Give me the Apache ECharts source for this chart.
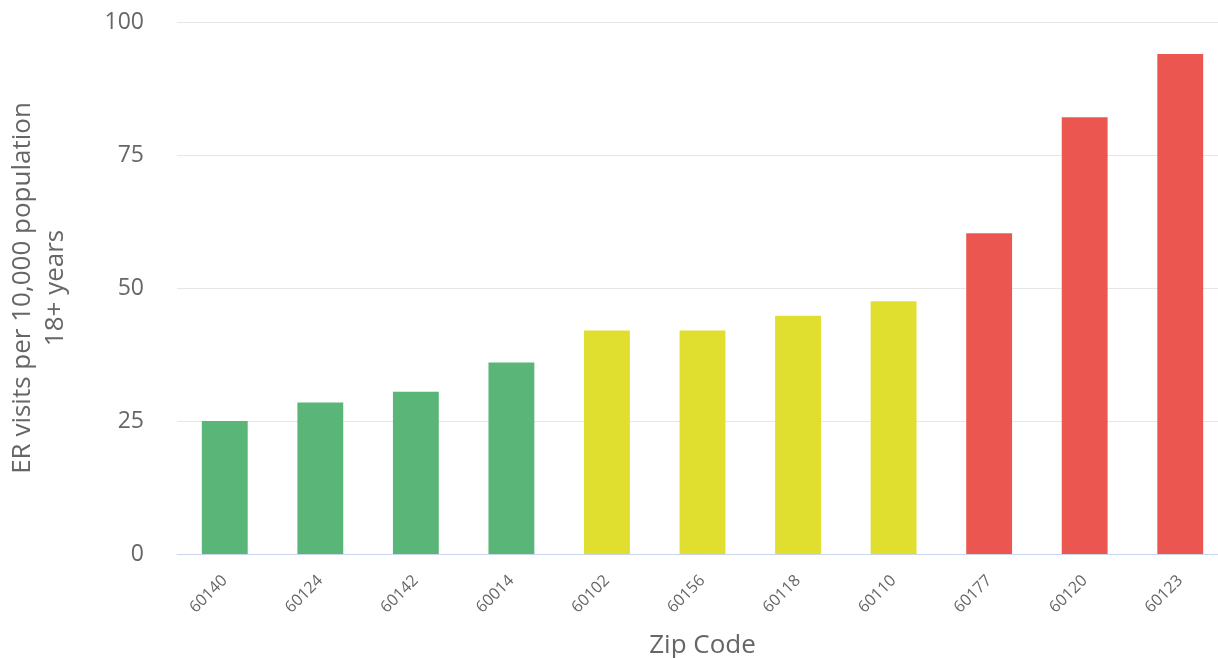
<!DOCTYPE html>
<html>
<head>
<meta charset="utf-8">
<script src="https://cdn.jsdelivr.net/npm/echarts@6/dist/echarts.min.js"></script>
<style>
html,body{margin:0;padding:0;background:#fff;overflow:hidden;}
#chart{width:1218px;height:658px;}
</style>
</head>
<body>
<div id="chart"></div>
<script>
const categories = ['60140','60124','60142','60014','60102','60156','60118','60110','60177','60120','60123'];
const values = [25.0, 28.5, 30.5, 36.0, 42.0, 42.0, 44.8, 47.5, 60.3, 82.1, 94.0];
const barColors = ['#5ab578','#5ab578','#5ab578','#5ab578','#e0df2f','#e0df2f','#e0df2f','#e0df2f','#eb5750','#eb5750','#eb5750'];
const yTicks = [0, 25, 50, 75, 100];

const chart = echarts.init(document.getElementById('chart'));
chart.setOption({
  animation: false,
  backgroundColor: '#ffffff',
  textStyle: { fontFamily: 'Open Sans' },
  grid: { left: 177, right: -10, top: 22, bottom: 104, containLabel: false, outerBoundsMode: 'none' },
  xAxis: {
    type: 'category',
    data: categories,
    name: 'Zip Code',
    nameLocation: 'middle',
    nameGap: 79,
    nameTextStyle: { fontSize: 26, color: '#666666', fontFamily: 'Open Sans' },
    axisLine: { show: true, lineStyle: { color: '#ccd6eb', width: 1 } },
    axisTick: { show: false },
    axisLabel: { rotate: 45, fontSize: 16, color: '#666666', margin: 24, fontFamily: 'Open Sans' }
  },
  yAxis: {
    type: 'value',
    min: yTicks[0],
    max: yTicks[yTicks.length - 1],
    interval: 25,
    name: 'ER visits per 10,000 population\n18+ years',
    nameLocation: 'middle',
    nameGap: 105,
    nameTextStyle: { fontSize: 26, color: '#666666', fontFamily: 'Open Sans', lineHeight: 33 },
    axisLine: { show: false },
    axisTick: { show: false },
    axisLabel: { fontSize: 23, color: '#666666', margin: 33, fontFamily: 'Open Sans' },
    splitLine: { lineStyle: { color: '#e6e6e6', width: 1 } }
  },
  series: [{
    type: 'bar',
    barWidth: '48%',
    data: values.map((v, i) => ({ value: v, itemStyle: { color: barColors[i] } }))
  }]
});
</script>
</body>
</html>
